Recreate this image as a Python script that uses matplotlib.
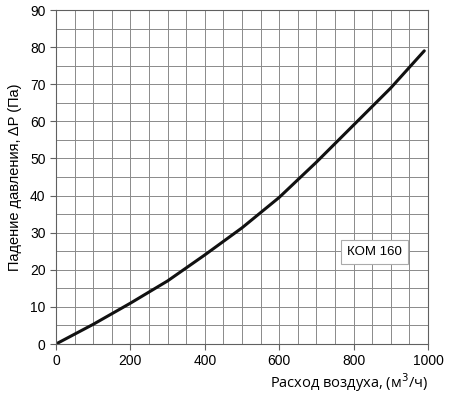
import numpy as np
import matplotlib
matplotlib.use('Agg')
from matplotlib import pyplot as plt

# flow (m3/h) vs pressure drop (Pa)
flow = [0, 100, 200, 300, 400, 500, 600, 700, 800, 900, 990]
dp = [0, 5.3, 11, 17, 24, 31.3, 39.5, 49, 59, 69, 79]
label = 'КОМ 160'

plt.rcParams['font.family'] = ['Liberation Sans', 'DejaVu Sans']

fig = plt.figure(figsize=(4.5, 3.94), dpi=100)
ax = fig.add_axes([56/450, 50/394, 372/450, 334/394])

ax.set_xlim(0, 1000)
ax.set_ylim(0, 90)
ax.set_xticks(np.arange(0, 1001, 200))
ax.set_yticks(np.arange(0, 91, 10))
ax.set_xticks(np.arange(0, 1001, 50), minor=True)
ax.set_yticks(np.arange(0, 91, 5), minor=True)
ax.grid(True, which='both', color='#8a8a8a', linewidth=0.7)
ax.tick_params(which='minor', length=0)
ax.tick_params(which='major', length=4, width=0.8, color='#606060', labelsize=10)
for s in ax.spines.values():
    s.set_color('#606060')
    s.set_linewidth(0.8)

ax.plot(flow, dp, color='#111111', linewidth=2.2, solid_capstyle='round')

ax.text(857, 24.8, label, fontsize=9.5, ha='center', va='center',
        bbox=dict(boxstyle='square,pad=0.45', facecolor='white', edgecolor='#aaaaaa', linewidth=0.8))

ax.set_ylabel('Падение давления, ΔP (Па)', fontsize=10.5, labelpad=6)
fig.text(428/450, 11/394, 'Расход воздуха, (м$^3$/ч)', fontsize=10.5,
         family=['Open Sans', 'DejaVu Sans'], ha='right', va='center')

fig.savefig('out.png', dpi=100)
